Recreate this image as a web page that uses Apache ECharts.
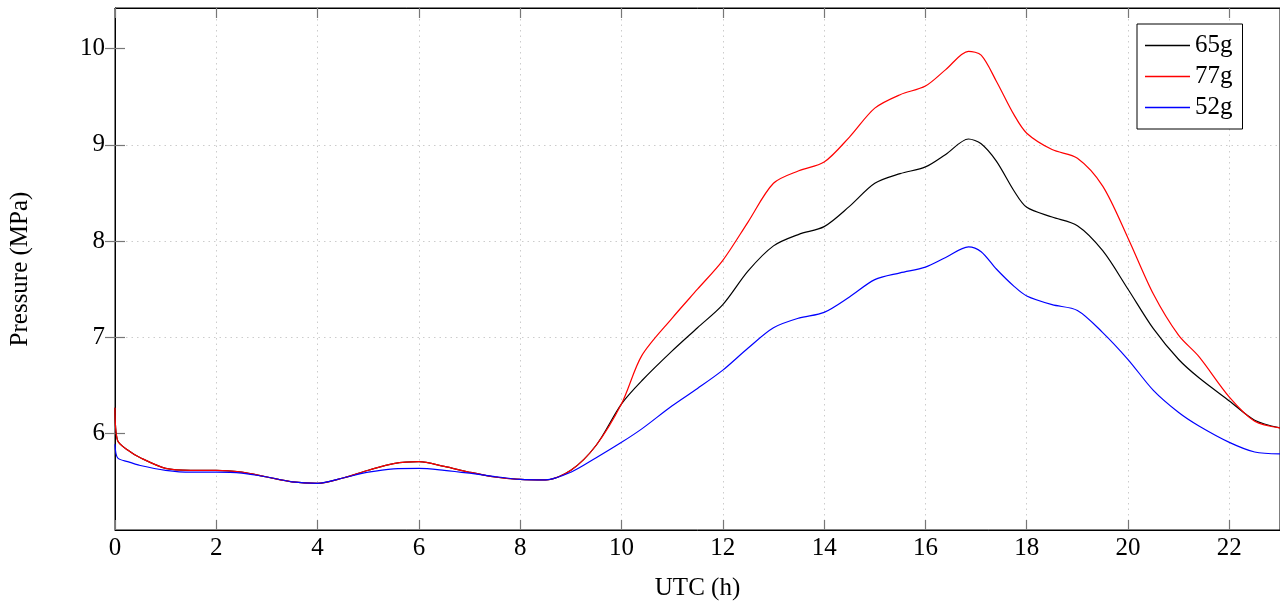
<!DOCTYPE html>
<html>
<head>
<meta charset="utf-8">
<script src="https://cdn.jsdelivr.net/npm/echarts@6/dist/echarts.min.js"></script>
<style>
  html, body { margin: 0; padding: 0; background: #fff; }
  #chart { width: 1280px; height: 606px; }
</style>
</head>
<body>
<div id="chart"></div>
<script>
// time of day (h)
const hours = [0, 0.05, 0.25, 0.5, 1, 1.5, 2, 2.5, 3, 3.5, 4, 4.5, 5, 5.5, 6, 6.5, 7, 7.5, 8, 8.5,
  9, 9.5, 10, 10.4, 11, 11.5, 12, 12.5, 13, 13.5, 14, 14.5, 15, 15.5, 16, 16.4, 16.85, 17.1, 17.4, 17.75,
  18, 18.5, 19, 19.5, 20, 20.5, 21, 21.4, 22, 22.5, 23]

// pressure (MPa) per ball mass
const p65 = [6.27, 5.93, 5.83, 5.75, 5.64, 5.62, 5.62, 5.60, 5.55, 5.50, 5.485, 5.54, 5.62, 5.69, 5.71, 5.66, 5.60, 5.55, 5.525, 5.52,
  5.62, 5.88, 6.31, 6.55, 6.86, 7.10, 7.34, 7.69, 7.95, 8.07, 8.15, 8.36, 8.60, 8.70, 8.77, 8.90, 9.06, 9.01, 8.83, 8.52,
  8.35, 8.25, 8.16, 7.90, 7.50, 7.09, 6.77, 6.58, 6.34, 6.14, 6.06]
const p77 = [6.27, 5.93, 5.83, 5.75, 5.64, 5.62, 5.62, 5.60, 5.55, 5.50, 5.485, 5.54, 5.62, 5.69, 5.71, 5.66, 5.60, 5.55, 5.525, 5.52,
  5.62, 5.88, 6.31, 6.81, 7.20, 7.50, 7.80, 8.20, 8.60, 8.73, 8.82, 9.08, 9.38, 9.52, 9.61, 9.78, 9.97, 9.93, 9.66, 9.31,
  9.12, 8.95, 8.86, 8.57, 8.03, 7.45, 7.02, 6.80, 6.38, 6.13, 6.06]
const p52 = [5.89, 5.75, 5.71, 5.67, 5.62, 5.60, 5.60, 5.59, 5.55, 5.50, 5.485, 5.54, 5.60, 5.635, 5.64, 5.62, 5.59, 5.555, 5.525, 5.52,
  5.60, 5.75, 5.91, 6.05, 6.29, 6.47, 6.66, 6.89, 7.10, 7.20, 7.26, 7.42, 7.60, 7.67, 7.73, 7.83, 7.94, 7.89, 7.71, 7.53,
  7.43, 7.34, 7.28, 7.05, 6.77, 6.45, 6.22, 6.08, 5.91, 5.81, 5.79]

const xTicks = [0, 2, 4, 6, 8, 10, 12, 14, 16, 18, 20, 22]
const yTicks = [6, 7, 8, 9, 10]

const seriesNames = ['65g', '77g', '52g']
const seriesColors = ['#000000', '#ff0000', '#0000ff']

const font = 'Liberation Serif'
const frameLine = { show: true, onZero: false, lineStyle: { color: '#000', width: 1 } }
const tickStyle = { show: true, inside: true, length: 10, lineStyle: { color: '#777', width: 1.2 } }
const gridStyle = {
  show: true, showMinLine: false, showMaxLine: false,
  lineStyle: { color: '#cccccc', width: 1, type: [1.5, 4] }
}

const chart = echarts.init(document.getElementById('chart'))

const toPairs = (vals) => hours.map((h, i) => [h, vals[i]])

chart.setOption({
  animation: false,
  // grid border closes the frame, axis lines keep it crisp
  grid: { left: 115, right: 0, top: 8, bottom: 75, show: true, borderColor: '#000', borderWidth: 1 },
  legend: {
    data: seriesNames,
    orient: 'vertical',
    left: 1137,
    top: 24,
    icon: 'rect',
    itemWidth: 45,
    itemHeight: 1.3,
    itemGap: 6,
    padding: [9, 10, 9, 8],
    borderColor: '#000',
    borderWidth: 1,
    backgroundColor: '#fff',
    textStyle: { fontFamily: font, fontSize: 25, color: '#000', lineHeight: 22 }
  },
  xAxis: [
    {
      type: 'value', min: 0, max: 23, interval: 2,
      name: 'UTC (h)', nameLocation: 'middle', nameGap: 46,
      nameTextStyle: { fontFamily: font, fontSize: 25, color: '#000' },
      axisLine: frameLine,
      axisTick: tickStyle,
      axisLabel: { fontFamily: font, fontSize: 25, color: '#000', margin: 6, customValues: xTicks },
      splitLine: gridStyle
    },
    {
      type: 'value', min: 0, max: 23, interval: 2, position: 'top',
      axisLine: frameLine,
      axisTick: tickStyle,
      axisLabel: { show: false },
      splitLine: { show: false }
    }
  ],
  yAxis: [
    {
      type: 'value', min: 5, max: 10.42, interval: 1,
      name: 'Pressure (MPa)', nameLocation: 'middle', nameGap: 82,
      nameTextStyle: { fontFamily: font, fontSize: 25, color: '#000' },
      axisLine: frameLine,
      axisTick: { ...tickStyle, customValues: yTicks },
      axisLabel: { fontFamily: font, fontSize: 25, color: '#000', margin: 10, customValues: yTicks },
      splitLine: gridStyle
    },
    {
      type: 'value', min: 5, max: 10.42, interval: 1, position: 'right',
      axisLine: { show: false },
      axisTick: { ...tickStyle, customValues: yTicks },
      axisLabel: { show: false },
      splitLine: { show: false }
    }
  ],
  series: [p65, p77, p52].map((vals, i) => ({
    name: seriesNames[i],
    type: 'line',
    data: toPairs(vals),
    smooth: 0.3,
    symbol: 'none',
    color: seriesColors[i],
    lineStyle: { color: seriesColors[i], width: 1.2 }
  }))
})
</script>
</body>
</html>
